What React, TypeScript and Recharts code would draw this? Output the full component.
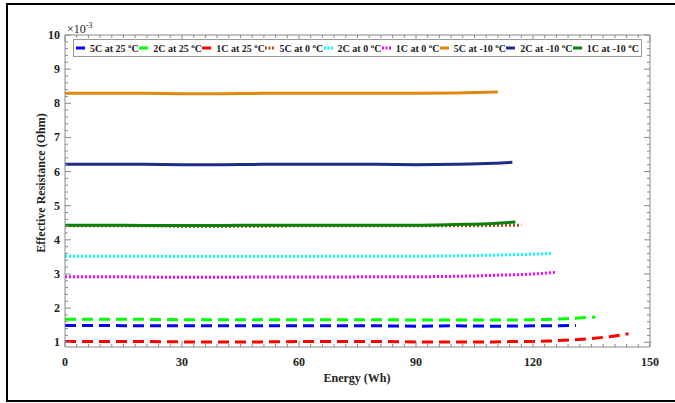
import React from "react";
import { LineChart, Line, XAxis, YAxis } from "recharts";

// energy (Wh) / effective resistance (x1e-3 Ohm)
const e5C25 = [0, 10, 20, 30, 40, 50, 60, 70, 80, 90, 100, 110, 120, 131];
const r5C25 = [1.49, 1.49, 1.48, 1.48, 1.48, 1.48, 1.48, 1.48, 1.48, 1.47, 1.48, 1.47, 1.48, 1.49];

const e2C25 = [0, 10, 20, 30, 40, 50, 60, 70, 80, 90, 100, 110, 120, 125, 130, 136];
const r2C25 = [1.67, 1.67, 1.67, 1.66, 1.66, 1.66, 1.66, 1.66, 1.66, 1.65, 1.65, 1.65, 1.66, 1.67, 1.7, 1.74];

const e1C25 = [0, 10, 20, 30, 40, 50, 60, 70, 80, 90, 100, 110, 115, 120, 125, 130, 135, 140, 144.5];
const r1C25 = [1.02, 1.02, 1.02, 1.01, 1.01, 1.01, 1.02, 1.02, 1.02, 1.01, 1.01, 1.01, 1.02, 1.02, 1.04, 1.07, 1.11, 1.17, 1.25];

const e5C0 = [0, 10, 20, 30, 40, 50, 60, 70, 80, 90, 100, 110, 117];
const r5C0 = [4.41, 4.41, 4.41, 4.4, 4.4, 4.4, 4.41, 4.41, 4.41, 4.41, 4.41, 4.42, 4.43];

const e2C0 = [0, 10, 20, 30, 40, 50, 60, 70, 80, 90, 100, 110, 120, 125];
const r2C0 = [3.52, 3.52, 3.52, 3.51, 3.51, 3.51, 3.51, 3.52, 3.52, 3.52, 3.53, 3.55, 3.58, 3.6];

const e1C0 = [0, 10, 20, 30, 40, 50, 60, 70, 80, 90, 100, 110, 120, 126];
const r1C0 = [2.92, 2.92, 2.91, 2.9, 2.9, 2.91, 2.91, 2.91, 2.92, 2.92, 2.93, 2.96, 3.0, 3.05];

const e5Cm10 = [0, 10, 20, 30, 40, 50, 60, 70, 80, 90, 100, 111];
const r5Cm10 = [8.29, 8.29, 8.29, 8.28, 8.28, 8.29, 8.29, 8.29, 8.29, 8.29, 8.3, 8.33];

const e2Cm10 = [0, 10, 20, 30, 40, 50, 60, 70, 80, 90, 100, 110, 114.7];
const r2Cm10 = [6.21, 6.21, 6.21, 6.2, 6.2, 6.21, 6.21, 6.21, 6.21, 6.2, 6.21, 6.24, 6.27];

const e1Cm10 = [0, 10, 20, 30, 40, 50, 60, 70, 80, 90, 100, 110, 115.5];
const r1Cm10 = [4.43, 4.43, 4.42, 4.42, 4.42, 4.43, 4.43, 4.43, 4.43, 4.43, 4.45, 4.48, 4.52];

const xTicks = [0, 30, 60, 90, 120, 150];
const yTicks = [1, 2, 3, 4, 5, 6, 7, 8, 9, 10];
// minor ticks every 3 Wh / 0.2 units (majors included)
const xMinor = Array.from({ length: 51 }, (_, i) => i * 3);
const yMinor = Array.from({ length: 46 }, (_, i) => Math.round((1 + i * 0.2) * 10) / 10);

const DASH = "11 6";
const DOT = "2 2";

const series = [
  { rate: "5C", temp: "25", energy: e5C25, res: r5C25, color: "#0000ff", dash: DASH },
  { rate: "2C", temp: "25", energy: e2C25, res: r2C25, color: "#00ff00", dash: DASH },
  { rate: "1C", temp: "25", energy: e1C25, res: r1C25, color: "#ff0000", dash: DASH },
  { rate: "5C", temp: "0", energy: e5C0, res: r5C0, color: "#a5501e", dash: DOT },
  { rate: "2C", temp: "0", energy: e2C0, res: r2C0, color: "#00ffff", dash: DOT },
  { rate: "1C", temp: "0", energy: e1C0, res: r1C0, color: "#ff00ff", dash: DOT },
  { rate: "5C", temp: "-10", energy: e5Cm10, res: r5Cm10, color: "#e3860c", dash: undefined },
  { rate: "2C", temp: "-10", energy: e2Cm10, res: r2Cm10, color: "#1c2d8c", dash: undefined },
  { rate: "1C", temp: "-10", energy: e1Cm10, res: r1Cm10, color: "#0a800a", dash: undefined },
];

const FONT = '"Liberation Serif", "Times New Roman", serif';
const AXIS = "#8a8a8a";
const X_DOMAIN: [number, number] = [0, 150];
const Y_DOMAIN: [number, number] = [0.86, 10];

const isMajorX = (v: number) => xTicks.includes(v);
const isMajorY = (v: number) => yTicks.includes(v);

const labelProps = { fill: "#222", fontSize: 12, fontWeight: "bold" as const, fontFamily: FONT };

// ticks point into the plot, labels only on majors
function BottomTick({ x, y, payload }: any) {
  const major = isMajorX(payload.value);
  return (
    <g>
      <line x1={x} x2={x} y1={y} y2={y - (major ? 6 : 3)} stroke={AXIS} />
      {major && (
        <text x={x} y={y + 19} textAnchor="middle" {...labelProps}>
          {payload.value}
        </text>
      )}
    </g>
  );
}

function TopTick({ x, y, payload }: any) {
  const major = isMajorX(payload.value);
  return <line x1={x} x2={x} y1={y} y2={y + (major ? 6 : 3)} stroke={AXIS} />;
}

function LeftTick({ x, y, payload }: any) {
  const major = isMajorY(payload.value);
  return (
    <g>
      <line x1={x} x2={x + (major ? 6 : 3)} y1={y} y2={y} stroke={AXIS} />
      {major && (
        <text x={x - 5} y={y + 4} textAnchor="end" {...labelProps}>
          {payload.value}
        </text>
      )}
    </g>
  );
}

function RightTick({ x, y, payload }: any) {
  const major = isMajorY(payload.value);
  return <line x1={x} x2={x - (major ? 6 : 3)} y1={y} y2={y} stroke={AXIS} />;
}

export default function App() {
  return (
    <div style={{ position: "absolute", left: 0, top: 0, width: 675, height: 403, background: "#fff", overflow: "hidden", fontFamily: FONT }}>
      <div
        style={{
          position: "absolute",
          left: 6,
          top: 3,
          width: 690,
          height: 399,
          border: "2.5px solid #000",
          boxSizing: "border-box",
        }}
      />
      <div style={{ position: "absolute", left: 0, top: 0 }}>
        <LineChart width={675} height={403} margin={{ top: 34, right: 24, bottom: 16, left: 35 }} style={{ fontFamily: FONT }}>
          <XAxis
            xAxisId="x"
            type="number"
            dataKey="e"
            domain={X_DOMAIN}
            ticks={xMinor}
            interval={0}
            allowDataOverflow
            height={40}
            tickLine={false}
            tickSize={0}
            tickMargin={0}
            axisLine={{ stroke: AXIS }}
            tick={<BottomTick />}
          />
          <XAxis
            xAxisId="xTop"
            orientation="top"
            type="number"
            dataKey="e"
            domain={X_DOMAIN}
            ticks={xMinor}
            interval={0}
            allowDataOverflow
            height={1}
            tickLine={false}
            tickSize={0}
            tickMargin={0}
            axisLine={{ stroke: AXIS }}
            tick={<TopTick />}
          />
          <YAxis
            yAxisId="y"
            type="number"
            domain={Y_DOMAIN}
            ticks={yMinor}
            interval={0}
            allowDataOverflow
            width={30}
            tickLine={false}
            tickSize={0}
            tickMargin={0}
            axisLine={{ stroke: AXIS }}
            tick={<LeftTick />}
          />
          <YAxis
            yAxisId="yRight"
            orientation="right"
            type="number"
            domain={Y_DOMAIN}
            ticks={yMinor}
            interval={0}
            allowDataOverflow
            width={1}
            tickLine={false}
            tickSize={0}
            tickMargin={0}
            axisLine={{ stroke: AXIS }}
            tick={<RightTick />}
          />
          {series.map((s) => (
            <Line
              key={s.rate + s.temp}
              xAxisId="x"
              yAxisId="y"
              data={s.energy.map((e, i) => ({ e, r: s.res[i] }))}
              dataKey="r"
              type="monotone"
              stroke={s.color}
              strokeWidth={3}
              strokeDasharray={s.dash}
              dot={false}
              activeDot={false}
              isAnimationActive={false}
            />
          ))}
        </LineChart>
      </div>

      {/* exponent */}
      <div style={{ position: "absolute", left: 67, top: 22, fontSize: 12, color: "#222", lineHeight: "14px", whiteSpace: "nowrap" }}>
        ×10<span style={{ fontSize: 8, position: "relative", top: -5 }}>-3</span>
      </div>

      {/* axis titles */}
      <div
        style={{
          position: "absolute",
          left: 41,
          top: 183,
          transform: "translate(-50%, -50%) rotate(-90deg)",
          fontWeight: "bold",
          fontSize: 12,
          color: "#222",
          whiteSpace: "nowrap",
        }}
      >
        Effective Resistance (Ohm)
      </div>
      <div
        style={{
          position: "absolute",
          left: 357,
          top: 378,
          transform: "translate(-50%, -50%)",
          fontWeight: "bold",
          fontSize: 12,
          color: "#222",
          whiteSpace: "nowrap",
        }}
      >
        Energy (Wh)
      </div>

      {/* legend */}
      <div
        style={{
          position: "absolute",
          left: 73,
          top: 39,
          width: 569,
          height: 18,
          border: "1px solid #999",
          background: "#fff",
          boxSizing: "border-box",
          display: "flex",
          alignItems: "center",
          justifyContent: "space-between",
          padding: "0 2px",
          fontWeight: "bold",
          fontSize: 10,
          color: "#222",
        }}
      >
        {series.map((s) => (
          <div key={s.rate + s.temp} style={{ display: "flex", alignItems: "center", whiteSpace: "nowrap" }}>
            <svg width={9} height={4} style={{ display: "block" }}>
              <line x1={0} y1={2} x2={9} y2={2} stroke={s.color} strokeWidth={3} strokeDasharray={s.dash === DOT ? "2 1.5" : undefined} />
            </svg>
            <span style={{ marginLeft: 5 }}>
              {s.rate} at {s.temp} <span style={{ fontSize: 7, position: "relative", top: -4 }}>o</span>C
            </span>
          </div>
        ))}
      </div>
    </div>
  );
}
